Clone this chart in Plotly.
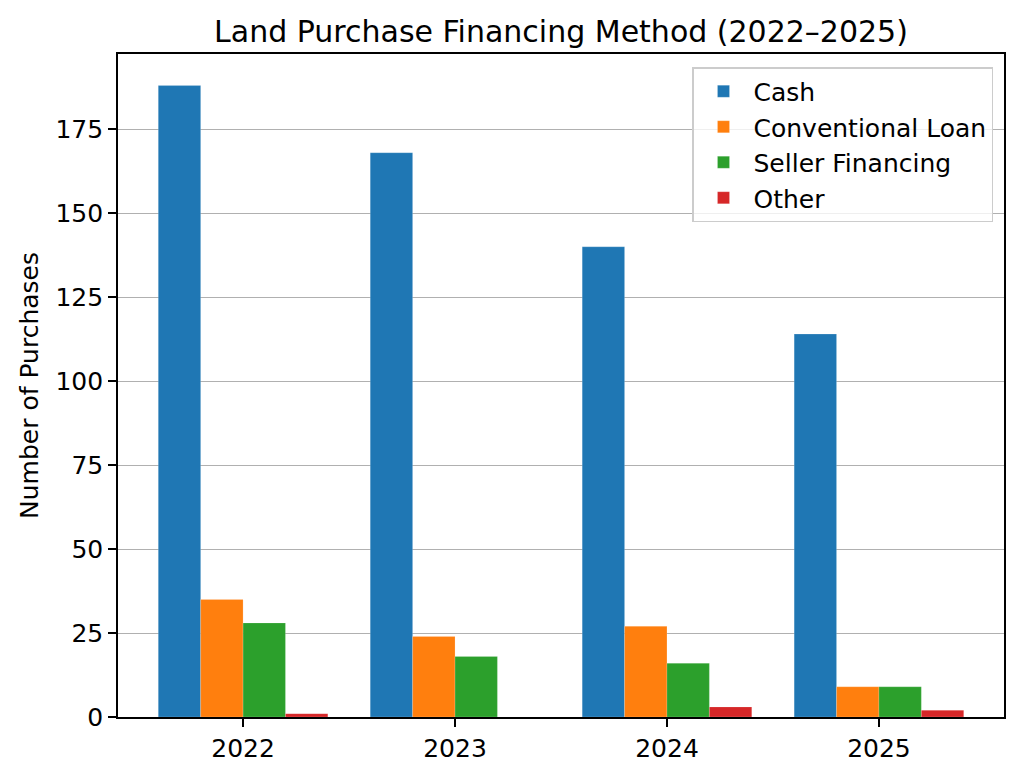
import plotly.graph_objects as go

years = ["2022", "2023", "2024", "2025"]
cash = [188, 168, 140, 114]
conventional = [35, 24, 27, 9]
seller = [28, 18, 16, 9]
other = [1, 0, 3, 2]

series = [
    ("Cash", cash, "#1f77b4"),
    ("Conventional Loan", conventional, "#ff7f0e"),
    ("Seller Financing", seller, "#2ca02c"),
    ("Other", other, "#d62728"),
]

W, H = 1024, 777
L, R, T, B = 118, 20, 54, 60
FONT = "DejaVu Sans"

fig = go.Figure()
xs = list(range(len(years)))
for name, vals, color in series:
    fig.add_trace(go.Bar(
        x=xs, y=vals, name=name,
        marker=dict(color=color, line=dict(color="rgba(255,255,255,0.35)", width=0.5)),
    ))

ymax = max(cash) * 1.05
PW = W - L - R
PH = H - T - B
fig.update_layout(
    width=W, height=H,
    margin=dict(l=L, r=R, t=T, b=B, pad=0),
    paper_bgcolor="white", plot_bgcolor="white",
    barmode="group", bargap=0.2, bargroupgap=0,
    font=dict(family=FONT, size=25, color="black"),
    title=dict(text="Land Purchase Financing Method (2022–2025)",
               x=(L + PW / 2) / W, xanchor="center",
               y=1 - 31 / H, yanchor="middle", yref="container",
               font=dict(size=30, family=FONT, color="black")),
    xaxis=dict(range=[-0.59, 3.59], tickmode="array", tickvals=xs, ticktext=years,
               showgrid=False, zeroline=False, showline=True, linecolor="black",
               linewidth=1.6, mirror=True, ticks="outside", ticklen=8, tickwidth=1.6,
               tickcolor="black", tickfont=dict(size=25)),
    yaxis=dict(range=[0, ymax], tickmode="array", tickvals=[0, 25, 50, 75, 100, 125, 150, 175],
               showgrid=True, gridcolor="#b0b0b0", gridwidth=1.4, zeroline=False,
               showline=True, linecolor="black", linewidth=1.6, mirror=True,
               ticks="outside", ticklen=8, tickwidth=1.6, tickcolor="black",
               tickfont=dict(size=25),
               title=dict(text="Number of Purchases", font=dict(size=25), standoff=10)),
    legend=dict(x=(993 - L) / PW, xanchor="right",
                y=(717 - 67) / PH, yanchor="top",
                bgcolor="rgba(255,255,255,0.8)", bordercolor="#cccccc", borderwidth=1.5,
                font=dict(size=25), itemwidth=50, tracegroupgap=0),
)

fig.write_html(
    "out.html",
    config={"displayModeBar": False},
    post_script="document.body.style.margin='0';document.body.style.overflow='hidden';",
)
